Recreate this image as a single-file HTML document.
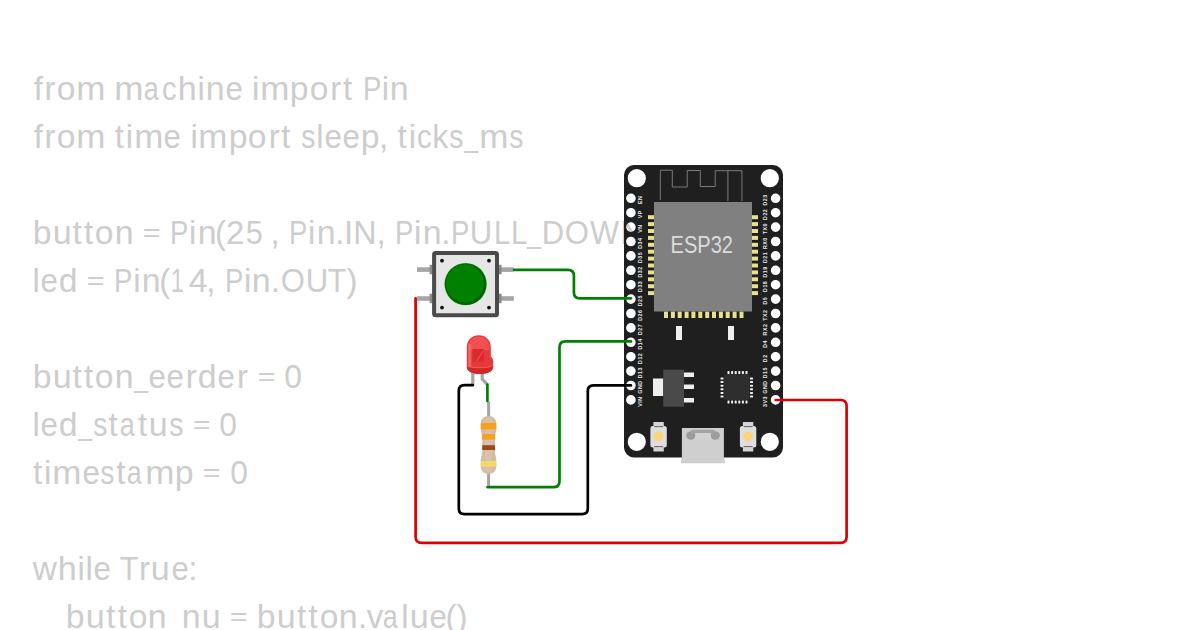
<!DOCTYPE html>
<html><head><meta charset="utf-8"><style>
html,body{margin:0;padding:0;background:#fff;width:1200px;height:630px;overflow:hidden;position:relative}
#code span{position:absolute;font-family:"Liberation Sans",sans-serif;font-size:33px;line-height:0;color:#cdcdcd;white-space:pre}
svg{position:absolute;left:0;top:0}
</style></head><body>
<div id="code"><span style="left:33.66px;top:88.6px">f</span><span style="left:44.39px;top:88.6px">r</span><span style="left:56.72px;top:88.6px;transform-origin:9.18px 11.4px;transform:translateY(0.00px) scale(1.018,1.000)">o</span><span style="left:76.87px;top:88.6px;transform-origin:13.75px 11.4px;transform:translateY(0.00px) scale(1.061,1.000)">m</span><span style="left:115.16px;top:88.6px;transform-origin:13.75px 11.4px;transform:translateY(0.00px) scale(1.061,1.000)">m</span><span style="left:142.31px;top:88.6px;transform-origin:9.88px 11.4px;transform:translateY(0.00px) scale(0.816,1.000)">a</span><span style="left:161.33px;top:88.6px;transform-origin:8.52px 11.4px;transform:translateY(0.00px) scale(0.887,1.000)">c</span><span style="left:177.93px;top:88.6px;transform-origin:9.25px 11.4px;transform:translateY(0.00px) scale(1.035,1.000)">h</span><span style="left:197.47px;top:88.6px">i</span><span style="left:205.94px;top:88.6px;transform-origin:9.20px 11.4px;transform:translateY(0.00px) scale(1.028,1.000)">n</span><span style="left:224.96px;top:88.6px;transform-origin:9.14px 11.4px;transform:translateY(0.00px) scale(0.946,1.000)">e</span><span style="left:251.96px;top:88.6px">i</span><span style="left:260.94px;top:88.6px;transform-origin:13.75px 11.4px;transform:translateY(0.00px) scale(1.061,1.000)">m</span><span style="left:290.38px;top:88.6px;transform-origin:9.55px 11.4px;transform:translateY(0.00px) scale(1.024,1.000)">p</span><span style="left:309.89px;top:88.6px;transform-origin:9.18px 11.4px;transform:translateY(0.00px) scale(1.018,1.000)">o</span><span style="left:330.18px;top:88.6px">r</span><span style="left:342.89px;top:88.6px">t</span><span style="left:360.83px;top:88.6px;transform-origin:11.49px 11.4px;transform:translateY(0.00px) scale(0.832,1.000)">P</span><span style="left:381.74px;top:88.6px">i</span><span style="left:390.22px;top:88.6px;transform-origin:9.20px 11.4px;transform:translateY(0.00px) scale(1.028,1.000)">n</span><span style="left:33.66px;top:136.6px">f</span><span style="left:44.39px;top:136.6px">r</span><span style="left:56.72px;top:136.6px;transform-origin:9.18px 11.4px;transform:translateY(0.00px) scale(1.018,1.000)">o</span><span style="left:76.87px;top:136.6px;transform-origin:13.75px 11.4px;transform:translateY(0.00px) scale(1.061,1.000)">m</span><span style="left:114.82px;top:136.6px">t</span><span style="left:125.85px;top:136.6px">i</span><span style="left:134.83px;top:136.6px;transform-origin:13.75px 11.4px;transform:translateY(0.00px) scale(1.061,1.000)">m</span><span style="left:163.44px;top:136.6px;transform-origin:9.14px 11.4px;transform:translateY(0.00px) scale(0.946,1.000)">e</span><span style="left:190.43px;top:136.6px">i</span><span style="left:199.41px;top:136.6px;transform-origin:13.75px 11.4px;transform:translateY(0.00px) scale(1.061,1.000)">m</span><span style="left:228.86px;top:136.6px;transform-origin:9.55px 11.4px;transform:translateY(0.00px) scale(1.024,1.000)">p</span><span style="left:248.36px;top:136.6px;transform-origin:9.18px 11.4px;transform:translateY(0.00px) scale(1.018,1.000)">o</span><span style="left:268.66px;top:136.6px">r</span><span style="left:281.36px;top:136.6px">t</span><span style="left:300.01px;top:136.6px;transform-origin:8.11px 11.4px;transform:translateY(0.00px) scale(0.856,1.000)">s</span><span style="left:316.14px;top:136.6px">l</span><span style="left:323.87px;top:136.6px;transform-origin:9.14px 11.4px;transform:translateY(0.00px) scale(0.946,1.000)">e</span><span style="left:342.00px;top:136.6px;transform-origin:9.14px 11.4px;transform:translateY(0.00px) scale(0.946,1.000)">e</span><span style="left:360.98px;top:136.6px;transform-origin:9.55px 11.4px;transform:translateY(0.00px) scale(1.024,1.000)">p</span><span style="left:378.98px;top:136.6px">,</span><span style="left:397.60px;top:136.6px">t</span><span style="left:408.63px;top:136.6px">i</span><span style="left:415.93px;top:136.6px;transform-origin:8.52px 11.4px;transform:translateY(0.00px) scale(0.887,1.000)">c</span><span style="left:432.17px;top:136.6px;transform-origin:9.39px 11.4px;transform:translateY(0.00px) scale(0.974,1.000)">k</span><span style="left:448.45px;top:136.6px;transform-origin:8.11px 11.4px;transform:translateY(0.00px) scale(0.856,1.000)">s</span><span style="left:462.14px;top:136.6px;transform-origin:9.11px 11.4px;transform:translateY(-1.23px) scale(0.743,0.926)">_</span><span style="left:479.59px;top:136.6px;transform-origin:13.75px 11.4px;transform:translateY(0.00px) scale(1.061,1.000)">m</span><span style="left:507.90px;top:136.6px;transform-origin:8.11px 11.4px;transform:translateY(0.00px) scale(0.856,1.000)">s</span><span style="left:32.91px;top:232.6px;transform-origin:9.55px 11.4px;transform:translateY(0.00px) scale(1.024,1.000)">b</span><span style="left:52.51px;top:232.6px;transform-origin:9.15px 11.4px;transform:translateY(0.00px) scale(1.032,1.000)">u</span><span style="left:72.60px;top:232.6px">t</span><span style="left:84.11px;top:232.6px">t</span><span style="left:95.25px;top:232.6px;transform-origin:9.18px 11.4px;transform:translateY(0.00px) scale(1.018,1.000)">o</span><span style="left:114.89px;top:232.6px;transform-origin:9.20px 11.4px;transform:translateY(0.00px) scale(1.028,1.000)">n</span><span style="left:141.91px;top:232.6px;transform-origin:9.63px 11.4px;transform:translateY(-2.61px) scale(0.923,0.807)">=</span><span style="left:168.15px;top:232.6px;transform-origin:11.49px 11.4px;transform:translateY(0.00px) scale(0.832,1.000)">P</span><span style="left:189.06px;top:232.6px">i</span><span style="left:197.54px;top:232.6px;transform-origin:9.20px 11.4px;transform:translateY(0.00px) scale(1.028,1.000)">n</span><span style="left:215.08px;top:232.6px">(</span><span style="left:226.08px;top:232.6px">2</span><span style="left:244.77px;top:232.6px;transform-origin:9.14px 11.4px;transform:translateY(0.00px) scale(0.928,1.000)">5</span><span style="left:270.48px;top:232.6px">,</span><span style="left:287.15px;top:232.6px;transform-origin:11.49px 11.4px;transform:translateY(0.00px) scale(0.832,1.000)">P</span><span style="left:308.05px;top:232.6px">i</span><span style="left:316.53px;top:232.6px;transform-origin:9.20px 11.4px;transform:translateY(0.00px) scale(1.028,1.000)">n</span><span style="left:335.23px;top:232.6px">.</span><span style="left:343.97px;top:232.6px">I</span><span style="left:353.33px;top:232.6px;transform-origin:11.92px 11.4px;transform:translateY(0.00px) scale(0.978,1.000)">N</span><span style="left:376.45px;top:232.6px">,</span><span style="left:393.12px;top:232.6px;transform-origin:11.49px 11.4px;transform:translateY(0.00px) scale(0.832,1.000)">P</span><span style="left:414.02px;top:232.6px">i</span><span style="left:422.50px;top:232.6px;transform-origin:9.20px 11.4px;transform:translateY(0.00px) scale(1.028,1.000)">n</span><span style="left:441.20px;top:232.6px">.</span><span style="left:449.00px;top:232.6px;transform-origin:11.49px 11.4px;transform:translateY(0.00px) scale(0.832,1.000)">P</span><span style="left:469.30px;top:232.6px;transform-origin:11.92px 11.4px;transform:translateY(0.00px) scale(0.943,1.000)">U</span><span style="left:492.64px;top:232.6px;transform-origin:9.98px 11.4px;transform:translateY(0.00px) scale(0.888,1.000)">L</span><span style="left:509.50px;top:232.6px;transform-origin:9.98px 11.4px;transform:translateY(0.00px) scale(0.888,1.000)">L</span><span style="left:524.69px;top:232.6px;transform-origin:9.11px 11.4px;transform:translateY(-1.23px) scale(0.743,0.926)">_</span><span style="left:540.70px;top:232.6px;transform-origin:12.48px 11.4px;transform:translateY(0.00px) scale(0.937,1.000)">D</span><span style="left:564.04px;top:232.6px;transform-origin:12.83px 11.4px;transform:translateY(0.00px) scale(0.940,1.000)">O</span><span style="left:588.76px;top:232.6px;transform-origin:15.59px 11.4px;transform:translateY(0.00px) scale(0.935,1.000)">W</span><span style="left:619.50px;top:232.6px;transform-origin:11.92px 11.4px;transform:translateY(0.00px) scale(0.978,1.000)">N</span><span style="left:643.61px;top:232.6px">)</span><span style="left:32.50px;top:280.6px">l</span><span style="left:40.23px;top:280.6px;transform-origin:9.14px 11.4px;transform:translateY(0.00px) scale(0.946,1.000)">e</span><span style="left:58.98px;top:280.6px;transform-origin:8.81px 11.4px;transform:translateY(0.00px) scale(1.023,1.000)">d</span><span style="left:86.13px;top:280.6px;transform-origin:9.63px 11.4px;transform:translateY(-2.61px) scale(0.923,0.807)">=</span><span style="left:112.37px;top:280.6px;transform-origin:11.49px 11.4px;transform:translateY(0.00px) scale(0.832,1.000)">P</span><span style="left:133.28px;top:280.6px">i</span><span style="left:141.75px;top:280.6px;transform-origin:9.20px 11.4px;transform:translateY(0.00px) scale(1.028,1.000)">n</span><span style="left:159.29px;top:280.6px">(</span><span style="left:167.82px;top:280.6px;transform-origin:9.63px 11.4px;transform:translateY(0.00px) scale(0.720,1.000)">1</span><span style="left:188.99px;top:280.6px;transform-origin:9.07px 11.4px;transform:translateY(0.00px) scale(1.032,1.000)">4</span><span style="left:206.31px;top:280.6px">,</span><span style="left:222.98px;top:280.6px;transform-origin:11.49px 11.4px;transform:translateY(0.00px) scale(0.832,1.000)">P</span><span style="left:243.88px;top:280.6px">i</span><span style="left:252.36px;top:280.6px;transform-origin:9.20px 11.4px;transform:translateY(0.00px) scale(1.028,1.000)">n</span><span style="left:271.06px;top:280.6px">.</span><span style="left:279.62px;top:280.6px;transform-origin:12.83px 11.4px;transform:translateY(0.00px) scale(0.940,1.000)">O</span><span style="left:304.85px;top:280.6px;transform-origin:11.92px 11.4px;transform:translateY(0.00px) scale(0.943,1.000)">U</span><span style="left:327.36px;top:280.6px;transform-origin:10.07px 11.4px;transform:translateY(0.00px) scale(0.920,1.000)">T</span><span style="left:346.38px;top:280.6px">)</span><span style="left:32.91px;top:376.6px;transform-origin:9.55px 11.4px;transform:translateY(0.00px) scale(1.024,1.000)">b</span><span style="left:52.51px;top:376.6px;transform-origin:9.15px 11.4px;transform:translateY(0.00px) scale(1.032,1.000)">u</span><span style="left:72.60px;top:376.6px">t</span><span style="left:84.11px;top:376.6px">t</span><span style="left:95.25px;top:376.6px;transform-origin:9.18px 11.4px;transform:translateY(0.00px) scale(1.018,1.000)">o</span><span style="left:114.89px;top:376.6px;transform-origin:9.20px 11.4px;transform:translateY(0.00px) scale(1.028,1.000)">n</span><span style="left:131.90px;top:376.6px;transform-origin:9.11px 11.4px;transform:translateY(-1.23px) scale(0.743,0.926)">_</span><span style="left:148.06px;top:376.6px;transform-origin:9.14px 11.4px;transform:translateY(0.00px) scale(0.946,1.000)">e</span><span style="left:166.20px;top:376.6px;transform-origin:9.14px 11.4px;transform:translateY(0.00px) scale(0.946,1.000)">e</span><span style="left:185.78px;top:376.6px">r</span><span style="left:198.14px;top:376.6px;transform-origin:8.81px 11.4px;transform:translateY(0.00px) scale(1.023,1.000)">d</span><span style="left:217.30px;top:376.6px;transform-origin:9.14px 11.4px;transform:translateY(0.00px) scale(0.946,1.000)">e</span><span style="left:236.88px;top:376.6px">r</span><span style="left:256.63px;top:376.6px;transform-origin:9.63px 11.4px;transform:translateY(-2.61px) scale(0.923,0.807)">=</span><span style="left:283.96px;top:376.6px;transform-origin:9.18px 11.4px;transform:translateY(0.00px) scale(0.964,1.000)">0</span><span style="left:32.50px;top:424.6px">l</span><span style="left:40.23px;top:424.6px;transform-origin:9.14px 11.4px;transform:translateY(0.00px) scale(0.946,1.000)">e</span><span style="left:58.98px;top:424.6px;transform-origin:8.81px 11.4px;transform:translateY(0.00px) scale(1.023,1.000)">d</span><span style="left:76.11px;top:424.6px;transform-origin:9.11px 11.4px;transform:translateY(-1.23px) scale(0.743,0.926)">_</span><span style="left:91.97px;top:424.6px;transform-origin:8.11px 11.4px;transform:translateY(0.00px) scale(0.856,1.000)">s</span><span style="left:108.62px;top:424.6px">t</span><span style="left:117.73px;top:424.6px;transform-origin:9.88px 11.4px;transform:translateY(0.00px) scale(0.816,1.000)">a</span><span style="left:138.08px;top:424.6px">t</span><span style="left:149.32px;top:424.6px;transform-origin:9.15px 11.4px;transform:translateY(0.00px) scale(1.032,1.000)">u</span><span style="left:168.15px;top:424.6px;transform-origin:8.11px 11.4px;transform:translateY(0.00px) scale(0.856,1.000)">s</span><span style="left:191.84px;top:424.6px;transform-origin:9.63px 11.4px;transform:translateY(-2.61px) scale(0.923,0.807)">=</span><span style="left:219.17px;top:424.6px;transform-origin:9.18px 11.4px;transform:translateY(0.00px) scale(0.964,1.000)">0</span><span style="left:33.03px;top:472.6px">t</span><span style="left:44.06px;top:472.6px">i</span><span style="left:53.04px;top:472.6px;transform-origin:13.75px 11.4px;transform:translateY(0.00px) scale(1.061,1.000)">m</span><span style="left:81.65px;top:472.6px;transform-origin:9.14px 11.4px;transform:translateY(0.00px) scale(0.946,1.000)">e</span><span style="left:99.48px;top:472.6px;transform-origin:8.11px 11.4px;transform:translateY(0.00px) scale(0.856,1.000)">s</span><span style="left:116.13px;top:472.6px">t</span><span style="left:125.23px;top:472.6px;transform-origin:9.88px 11.4px;transform:translateY(0.00px) scale(0.816,1.000)">a</span><span style="left:145.93px;top:472.6px;transform-origin:13.75px 11.4px;transform:translateY(0.00px) scale(1.061,1.000)">m</span><span style="left:175.38px;top:472.6px;transform-origin:9.55px 11.4px;transform:translateY(0.00px) scale(1.024,1.000)">p</span><span style="left:202.30px;top:472.6px;transform-origin:9.63px 11.4px;transform:translateY(-2.61px) scale(0.923,0.807)">=</span><span style="left:229.62px;top:472.6px;transform-origin:9.18px 11.4px;transform:translateY(0.00px) scale(0.964,1.000)">0</span><span style="left:32.68px;top:568.6px;transform-origin:11.93px 11.4px;transform:translateY(0.00px) scale(1.013,1.000)">w</span><span style="left:57.85px;top:568.6px;transform-origin:9.25px 11.4px;transform:translateY(0.00px) scale(1.035,1.000)">h</span><span style="left:77.38px;top:568.6px">i</span><span style="left:85.50px;top:568.6px">l</span><span style="left:93.23px;top:568.6px;transform-origin:9.14px 11.4px;transform:translateY(0.00px) scale(0.946,1.000)">e</span><span style="left:118.57px;top:568.6px;transform-origin:10.07px 11.4px;transform:translateY(0.00px) scale(0.920,1.000)">T</span><span style="left:138.98px;top:568.6px">r</span><span style="left:151.41px;top:568.6px;transform-origin:9.15px 11.4px;transform:translateY(0.00px) scale(1.032,1.000)">u</span><span style="left:170.55px;top:568.6px;transform-origin:9.14px 11.4px;transform:translateY(0.00px) scale(0.946,1.000)">e</span><span style="left:188.37px;top:568.6px">:</span><span style="left:66.48px;top:616.6px;transform-origin:9.55px 11.4px;transform:translateY(0.00px) scale(1.024,1.000)">b</span><span style="left:86.07px;top:616.6px;transform-origin:9.15px 11.4px;transform:translateY(0.00px) scale(1.032,1.000)">u</span><span style="left:106.16px;top:616.6px">t</span><span style="left:117.67px;top:616.6px">t</span><span style="left:128.81px;top:616.6px;transform-origin:9.18px 11.4px;transform:translateY(0.00px) scale(1.018,1.000)">o</span><span style="left:148.46px;top:616.6px;transform-origin:9.20px 11.4px;transform:translateY(0.00px) scale(1.028,1.000)">n</span><span style="left:165.46px;top:616.6px;transform-origin:9.11px 11.4px;transform:translateY(-1.23px) scale(0.743,0.926)">_</span><span style="left:182.41px;top:616.6px;transform-origin:9.20px 11.4px;transform:translateY(0.00px) scale(1.028,1.000)">n</span><span style="left:202.10px;top:616.6px;transform-origin:9.15px 11.4px;transform:translateY(0.00px) scale(1.032,1.000)">u</span><span style="left:229.24px;top:616.6px;transform-origin:9.63px 11.4px;transform:translateY(-2.61px) scale(0.923,0.807)">=</span><span style="left:257.33px;top:616.6px;transform-origin:9.55px 11.4px;transform:translateY(0.00px) scale(1.024,1.000)">b</span><span style="left:276.92px;top:616.6px;transform-origin:9.15px 11.4px;transform:translateY(0.00px) scale(1.032,1.000)">u</span><span style="left:297.01px;top:616.6px">t</span><span style="left:308.52px;top:616.6px">t</span><span style="left:319.66px;top:616.6px;transform-origin:9.18px 11.4px;transform:translateY(0.00px) scale(1.018,1.000)">o</span><span style="left:339.31px;top:616.6px;transform-origin:9.20px 11.4px;transform:translateY(0.00px) scale(1.028,1.000)">n</span><span style="left:358.01px;top:616.6px">.</span><span style="left:366.65px;top:616.6px">v</span><span style="left:381.49px;top:616.6px;transform-origin:9.88px 11.4px;transform:translateY(0.00px) scale(0.816,1.000)">a</span><span style="left:401.32px;top:616.6px">l</span><span style="left:409.72px;top:616.6px;transform-origin:9.15px 11.4px;transform:translateY(0.00px) scale(1.032,1.000)">u</span><span style="left:428.86px;top:616.6px;transform-origin:9.14px 11.4px;transform:translateY(0.00px) scale(0.946,1.000)">e</span><span style="left:445.52px;top:616.6px">(</span><span style="left:456.58px;top:616.6px">)</span></div>
<svg width="1200" height="630" viewBox="0 0 1200 630">
<path fill="#1f1f1f" fill-rule="evenodd" d="M634,165 H773 A10,10 0 0 1 783,175 V447.5 A10,10 0 0 1 773,457.5 H634 A10,10 0 0 1 624,447.5 V175 A10,10 0 0 1 634,165 Z M627.6999999999999,178.2 a9.1,9.1 0 1 0 18.2,0 a9.1,9.1 0 1 0 -18.2,0 Z M760.6999999999999,178.2 a9.1,9.1 0 1 0 18.2,0 a9.1,9.1 0 1 0 -18.2,0 Z M627.6999999999999,441.8 a9.1,9.1 0 1 0 18.2,0 a9.1,9.1 0 1 0 -18.2,0 Z M760.6999999999999,441.8 a9.1,9.1 0 1 0 18.2,0 a9.1,9.1 0 1 0 -18.2,0 Z M626.1,198.3 a4.8,4.8 0 1 0 9.6,0 a4.8,4.8 0 1 0 -9.6,0 Z M770.8000000000001,198.3 a4.8,4.8 0 1 0 9.6,0 a4.8,4.8 0 1 0 -9.6,0 Z M626.1,212.70000000000002 a4.8,4.8 0 1 0 9.6,0 a4.8,4.8 0 1 0 -9.6,0 Z M770.8000000000001,212.70000000000002 a4.8,4.8 0 1 0 9.6,0 a4.8,4.8 0 1 0 -9.6,0 Z M626.1,227.10000000000002 a4.8,4.8 0 1 0 9.6,0 a4.8,4.8 0 1 0 -9.6,0 Z M770.8000000000001,227.10000000000002 a4.8,4.8 0 1 0 9.6,0 a4.8,4.8 0 1 0 -9.6,0 Z M626.1,241.5 a4.8,4.8 0 1 0 9.6,0 a4.8,4.8 0 1 0 -9.6,0 Z M770.8000000000001,241.5 a4.8,4.8 0 1 0 9.6,0 a4.8,4.8 0 1 0 -9.6,0 Z M626.1,255.9 a4.8,4.8 0 1 0 9.6,0 a4.8,4.8 0 1 0 -9.6,0 Z M770.8000000000001,255.9 a4.8,4.8 0 1 0 9.6,0 a4.8,4.8 0 1 0 -9.6,0 Z M626.1,270.3 a4.8,4.8 0 1 0 9.6,0 a4.8,4.8 0 1 0 -9.6,0 Z M770.8000000000001,270.3 a4.8,4.8 0 1 0 9.6,0 a4.8,4.8 0 1 0 -9.6,0 Z M626.1,284.70000000000005 a4.8,4.8 0 1 0 9.6,0 a4.8,4.8 0 1 0 -9.6,0 Z M770.8000000000001,284.70000000000005 a4.8,4.8 0 1 0 9.6,0 a4.8,4.8 0 1 0 -9.6,0 Z M626.1,299.1 a4.8,4.8 0 1 0 9.6,0 a4.8,4.8 0 1 0 -9.6,0 Z M770.8000000000001,299.1 a4.8,4.8 0 1 0 9.6,0 a4.8,4.8 0 1 0 -9.6,0 Z M626.1,313.5 a4.8,4.8 0 1 0 9.6,0 a4.8,4.8 0 1 0 -9.6,0 Z M770.8000000000001,313.5 a4.8,4.8 0 1 0 9.6,0 a4.8,4.8 0 1 0 -9.6,0 Z M626.1,327.9 a4.8,4.8 0 1 0 9.6,0 a4.8,4.8 0 1 0 -9.6,0 Z M770.8000000000001,327.9 a4.8,4.8 0 1 0 9.6,0 a4.8,4.8 0 1 0 -9.6,0 Z M626.1,342.3 a4.8,4.8 0 1 0 9.6,0 a4.8,4.8 0 1 0 -9.6,0 Z M770.8000000000001,342.3 a4.8,4.8 0 1 0 9.6,0 a4.8,4.8 0 1 0 -9.6,0 Z M626.1,356.70000000000005 a4.8,4.8 0 1 0 9.6,0 a4.8,4.8 0 1 0 -9.6,0 Z M770.8000000000001,356.70000000000005 a4.8,4.8 0 1 0 9.6,0 a4.8,4.8 0 1 0 -9.6,0 Z M626.1,371.1 a4.8,4.8 0 1 0 9.6,0 a4.8,4.8 0 1 0 -9.6,0 Z M770.8000000000001,371.1 a4.8,4.8 0 1 0 9.6,0 a4.8,4.8 0 1 0 -9.6,0 Z M626.1,385.5 a4.8,4.8 0 1 0 9.6,0 a4.8,4.8 0 1 0 -9.6,0 Z M770.8000000000001,385.5 a4.8,4.8 0 1 0 9.6,0 a4.8,4.8 0 1 0 -9.6,0 Z M626.1,399.9 a4.8,4.8 0 1 0 9.6,0 a4.8,4.8 0 1 0 -9.6,0 Z M770.8000000000001,399.9 a4.8,4.8 0 1 0 9.6,0 a4.8,4.8 0 1 0 -9.6,0 Z"/>
<path fill="none" stroke="#7a7a7a" stroke-width="1" d="M660.3,200 V170.2 H672.3 V187 H687.2 V170.5 H700.3 V186.5 H715.2 V170.7 H741.9 V201 M727.9,170.7 V201"/>
<rect x="648" y="215.2" width="6" height="4" fill="#e8e08a"/>
<rect x="752" y="215.2" width="6" height="4" fill="#e8e08a"/>
<rect x="648" y="222.1" width="6" height="4" fill="#e8e08a"/>
<rect x="752" y="222.1" width="6" height="4" fill="#e8e08a"/>
<rect x="648" y="229.0" width="6" height="4" fill="#e8e08a"/>
<rect x="752" y="229.0" width="6" height="4" fill="#e8e08a"/>
<rect x="648" y="235.9" width="6" height="4" fill="#e8e08a"/>
<rect x="752" y="235.9" width="6" height="4" fill="#e8e08a"/>
<rect x="648" y="242.8" width="6" height="4" fill="#e8e08a"/>
<rect x="752" y="242.8" width="6" height="4" fill="#e8e08a"/>
<rect x="648" y="249.7" width="6" height="4" fill="#e8e08a"/>
<rect x="752" y="249.7" width="6" height="4" fill="#e8e08a"/>
<rect x="648" y="256.6" width="6" height="4" fill="#e8e08a"/>
<rect x="752" y="256.6" width="6" height="4" fill="#e8e08a"/>
<rect x="648" y="263.5" width="6" height="4" fill="#e8e08a"/>
<rect x="752" y="263.5" width="6" height="4" fill="#e8e08a"/>
<rect x="648" y="270.4" width="6" height="4" fill="#e8e08a"/>
<rect x="752" y="270.4" width="6" height="4" fill="#e8e08a"/>
<rect x="648" y="277.3" width="6" height="4" fill="#e8e08a"/>
<rect x="752" y="277.3" width="6" height="4" fill="#e8e08a"/>
<rect x="648" y="284.2" width="6" height="4" fill="#e8e08a"/>
<rect x="752" y="284.2" width="6" height="4" fill="#e8e08a"/>
<rect x="648" y="291.1" width="6" height="4" fill="#e8e08a"/>
<rect x="752" y="291.1" width="6" height="4" fill="#e8e08a"/>
<rect x="664.0" y="311.5" width="4" height="6.5" fill="#e8e08a"/>
<rect x="670.9" y="311.5" width="4" height="6.5" fill="#e8e08a"/>
<rect x="677.7" y="311.5" width="4" height="6.5" fill="#e8e08a"/>
<rect x="684.6" y="311.5" width="4" height="6.5" fill="#e8e08a"/>
<rect x="691.4" y="311.5" width="4" height="6.5" fill="#e8e08a"/>
<rect x="698.3" y="311.5" width="4" height="6.5" fill="#e8e08a"/>
<rect x="705.2" y="311.5" width="4" height="6.5" fill="#e8e08a"/>
<rect x="712.0" y="311.5" width="4" height="6.5" fill="#e8e08a"/>
<rect x="718.9" y="311.5" width="4" height="6.5" fill="#e8e08a"/>
<rect x="725.7" y="311.5" width="4" height="6.5" fill="#e8e08a"/>
<rect x="732.6" y="311.5" width="4" height="6.5" fill="#e8e08a"/>
<rect x="739.5" y="311.5" width="4" height="6.5" fill="#e8e08a"/>
<rect x="654" y="202" width="98" height="109.5" fill="#808080"/>
<text x="670.6" y="253" font-size="23.6" fill="#dcdcdc" textLength="62.4" lengthAdjust="spacingAndGlyphs" font-family="Liberation Sans">ESP32</text>
<rect x="676" y="326" width="6" height="14" fill="#eeeeee"/>
<rect x="728" y="326" width="6" height="14" fill="#eeeeee"/>
<rect x="653" y="378.5" width="10.3" height="17.5" fill="#eeeeee"/>
<rect x="663.3" y="369.7" width="20.7" height="37" fill="#4a4a4a"/>
<rect x="684" y="372.5" width="10" height="4.5" fill="#eeeeee"/>
<rect x="684" y="384.5" width="10" height="4.5" fill="#eeeeee"/>
<rect x="684" y="398" width="10" height="4.5" fill="#eeeeee"/>
<rect x="724" y="374" width="25.5" height="26" rx="1.5" fill="#2e2e2e"/>
<rect x="727.5" y="371" width="2" height="3" rx="0.6" fill="#f0f0f0"/>
<rect x="727.5" y="400.5" width="2" height="3" rx="0.6" fill="#f0f0f0"/>
<rect x="720.5" y="377.5" width="3" height="2" rx="0.6" fill="#f0f0f0"/>
<rect x="750" y="377.5" width="3" height="2" rx="0.6" fill="#f0f0f0"/>
<rect x="731.1" y="371" width="2" height="3" rx="0.6" fill="#f0f0f0"/>
<rect x="731.1" y="400.5" width="2" height="3" rx="0.6" fill="#f0f0f0"/>
<rect x="720.5" y="381.1" width="3" height="2" rx="0.6" fill="#f0f0f0"/>
<rect x="750" y="381.1" width="3" height="2" rx="0.6" fill="#f0f0f0"/>
<rect x="734.7" y="371" width="2" height="3" rx="0.6" fill="#f0f0f0"/>
<rect x="734.7" y="400.5" width="2" height="3" rx="0.6" fill="#f0f0f0"/>
<rect x="720.5" y="384.7" width="3" height="2" rx="0.6" fill="#f0f0f0"/>
<rect x="750" y="384.7" width="3" height="2" rx="0.6" fill="#f0f0f0"/>
<rect x="738.3" y="371" width="2" height="3" rx="0.6" fill="#f0f0f0"/>
<rect x="738.3" y="400.5" width="2" height="3" rx="0.6" fill="#f0f0f0"/>
<rect x="720.5" y="388.3" width="3" height="2" rx="0.6" fill="#f0f0f0"/>
<rect x="750" y="388.3" width="3" height="2" rx="0.6" fill="#f0f0f0"/>
<rect x="741.9" y="371" width="2" height="3" rx="0.6" fill="#f0f0f0"/>
<rect x="741.9" y="400.5" width="2" height="3" rx="0.6" fill="#f0f0f0"/>
<rect x="720.5" y="391.9" width="3" height="2" rx="0.6" fill="#f0f0f0"/>
<rect x="750" y="391.9" width="3" height="2" rx="0.6" fill="#f0f0f0"/>
<rect x="745.5" y="371" width="2" height="3" rx="0.6" fill="#f0f0f0"/>
<rect x="745.5" y="400.5" width="2" height="3" rx="0.6" fill="#f0f0f0"/>
<rect x="720.5" y="395.5" width="3" height="2" rx="0.6" fill="#f0f0f0"/>
<rect x="750" y="395.5" width="3" height="2" rx="0.6" fill="#f0f0f0"/>
<rect x="653.4" y="422" width="10.4" height="5.5" fill="#d4d4d4"/>
<rect x="653.4" y="446" width="10.4" height="5.5" fill="#d4d4d4"/>
<rect x="650.4" y="426" width="16.4" height="21.5" rx="2.5" fill="#dedede"/>
<rect x="654.1" y="426.2" width="9" height="0.9" fill="#555"/>
<rect x="654.1" y="446.2" width="9" height="0.9" fill="#555"/>
<circle cx="658.6" cy="436.3" r="5.4" fill="#fcd67a" opacity="0.5"/>
<circle cx="658.6" cy="436.3" r="4.6" fill="#fdd47a"/>
<rect x="742.9" y="422" width="10.4" height="5.5" fill="#d4d4d4"/>
<rect x="742.9" y="446" width="10.4" height="5.5" fill="#d4d4d4"/>
<rect x="739.9" y="426" width="16.4" height="21.5" rx="2.5" fill="#dedede"/>
<rect x="743.6" y="426.2" width="9" height="0.9" fill="#555"/>
<rect x="743.6" y="446.2" width="9" height="0.9" fill="#555"/>
<circle cx="748.1" cy="436.3" r="5.4" fill="#fcd67a" opacity="0.5"/>
<circle cx="748.1" cy="436.3" r="4.6" fill="#fdd47a"/>
<path fill="#cfcfcf" d="M681.9,428.1 H723.9 V457 L725.2,463.3 H680.6 L681.9,457 Z"/>
<ellipse cx="690.8" cy="435.5" rx="4.6" ry="4.2" fill="#9c9c9c"/>
<ellipse cx="715.3" cy="435.5" rx="4.6" ry="4.2" fill="#9c9c9c"/>
<rect x="691" y="429.8" width="24" height="4" rx="1.5" fill="#a4a4a4"/>
<rect x="695.3" y="433" width="15.4" height="7" fill="#d2d2d2"/>
<text transform="translate(642.4,199.9) rotate(-90)" text-anchor="middle" font-size="5.3" letter-spacing="0.5" font-weight="bold" fill="#eeeeee" font-family="Liberation Sans">EN</text>
<text transform="translate(642.4,214.3) rotate(-90)" text-anchor="middle" font-size="5.3" letter-spacing="0.5" font-weight="bold" fill="#eeeeee" font-family="Liberation Sans">VP</text>
<text transform="translate(642.4,228.7) rotate(-90)" text-anchor="middle" font-size="5.3" letter-spacing="0.5" font-weight="bold" fill="#eeeeee" font-family="Liberation Sans">VN</text>
<text transform="translate(642.4,243.1) rotate(-90)" text-anchor="middle" font-size="5.3" letter-spacing="0.5" font-weight="bold" fill="#eeeeee" font-family="Liberation Sans">D34</text>
<text transform="translate(642.4,257.5) rotate(-90)" text-anchor="middle" font-size="5.3" letter-spacing="0.5" font-weight="bold" fill="#eeeeee" font-family="Liberation Sans">D35</text>
<text transform="translate(642.4,271.9) rotate(-90)" text-anchor="middle" font-size="5.3" letter-spacing="0.5" font-weight="bold" fill="#eeeeee" font-family="Liberation Sans">D32</text>
<text transform="translate(642.4,286.3) rotate(-90)" text-anchor="middle" font-size="5.3" letter-spacing="0.5" font-weight="bold" fill="#eeeeee" font-family="Liberation Sans">D33</text>
<text transform="translate(642.4,300.7) rotate(-90)" text-anchor="middle" font-size="5.3" letter-spacing="0.5" font-weight="bold" fill="#eeeeee" font-family="Liberation Sans">D25</text>
<text transform="translate(642.4,315.1) rotate(-90)" text-anchor="middle" font-size="5.3" letter-spacing="0.5" font-weight="bold" fill="#eeeeee" font-family="Liberation Sans">D26</text>
<text transform="translate(642.4,329.5) rotate(-90)" text-anchor="middle" font-size="5.3" letter-spacing="0.5" font-weight="bold" fill="#eeeeee" font-family="Liberation Sans">D27</text>
<text transform="translate(642.4,343.9) rotate(-90)" text-anchor="middle" font-size="5.3" letter-spacing="0.5" font-weight="bold" fill="#eeeeee" font-family="Liberation Sans">D14</text>
<text transform="translate(642.4,358.3) rotate(-90)" text-anchor="middle" font-size="5.3" letter-spacing="0.5" font-weight="bold" fill="#eeeeee" font-family="Liberation Sans">D12</text>
<text transform="translate(642.4,372.7) rotate(-90)" text-anchor="middle" font-size="5.3" letter-spacing="0.5" font-weight="bold" fill="#eeeeee" font-family="Liberation Sans">D13</text>
<text transform="translate(642.4,387.1) rotate(-90)" text-anchor="middle" font-size="5.3" letter-spacing="0.5" font-weight="bold" fill="#eeeeee" font-family="Liberation Sans">GND</text>
<text transform="translate(642.4,401.5) rotate(-90)" text-anchor="middle" font-size="5.3" letter-spacing="0.5" font-weight="bold" fill="#eeeeee" font-family="Liberation Sans">VIN</text>
<text transform="translate(766.9,199.9) rotate(-90)" text-anchor="middle" font-size="5.3" letter-spacing="0.5" font-weight="bold" fill="#eeeeee" font-family="Liberation Sans">D23</text>
<text transform="translate(766.9,214.3) rotate(-90)" text-anchor="middle" font-size="5.3" letter-spacing="0.5" font-weight="bold" fill="#eeeeee" font-family="Liberation Sans">D22</text>
<text transform="translate(766.9,228.7) rotate(-90)" text-anchor="middle" font-size="5.3" letter-spacing="0.5" font-weight="bold" fill="#eeeeee" font-family="Liberation Sans">TX0</text>
<text transform="translate(766.9,243.1) rotate(-90)" text-anchor="middle" font-size="5.3" letter-spacing="0.5" font-weight="bold" fill="#eeeeee" font-family="Liberation Sans">RX0</text>
<text transform="translate(766.9,257.5) rotate(-90)" text-anchor="middle" font-size="5.3" letter-spacing="0.5" font-weight="bold" fill="#eeeeee" font-family="Liberation Sans">D21</text>
<text transform="translate(766.9,271.9) rotate(-90)" text-anchor="middle" font-size="5.3" letter-spacing="0.5" font-weight="bold" fill="#eeeeee" font-family="Liberation Sans">D19</text>
<text transform="translate(766.9,286.3) rotate(-90)" text-anchor="middle" font-size="5.3" letter-spacing="0.5" font-weight="bold" fill="#eeeeee" font-family="Liberation Sans">D18</text>
<text transform="translate(766.9,300.7) rotate(-90)" text-anchor="middle" font-size="5.3" letter-spacing="0.5" font-weight="bold" fill="#eeeeee" font-family="Liberation Sans">D5</text>
<text transform="translate(766.9,315.1) rotate(-90)" text-anchor="middle" font-size="5.3" letter-spacing="0.5" font-weight="bold" fill="#eeeeee" font-family="Liberation Sans">TX2</text>
<text transform="translate(766.9,329.5) rotate(-90)" text-anchor="middle" font-size="5.3" letter-spacing="0.5" font-weight="bold" fill="#eeeeee" font-family="Liberation Sans">RX2</text>
<text transform="translate(766.9,343.9) rotate(-90)" text-anchor="middle" font-size="5.3" letter-spacing="0.5" font-weight="bold" fill="#eeeeee" font-family="Liberation Sans">D4</text>
<text transform="translate(766.9,358.3) rotate(-90)" text-anchor="middle" font-size="5.3" letter-spacing="0.5" font-weight="bold" fill="#eeeeee" font-family="Liberation Sans">D2</text>
<text transform="translate(766.9,372.7) rotate(-90)" text-anchor="middle" font-size="5.3" letter-spacing="0.5" font-weight="bold" fill="#eeeeee" font-family="Liberation Sans">D15</text>
<text transform="translate(766.9,387.1) rotate(-90)" text-anchor="middle" font-size="5.3" letter-spacing="0.5" font-weight="bold" fill="#eeeeee" font-family="Liberation Sans">GND</text>
<text transform="translate(766.9,401.5) rotate(-90)" text-anchor="middle" font-size="5.3" letter-spacing="0.5" font-weight="bold" fill="#eeeeee" font-family="Liberation Sans">3V3</text>
<rect x="417" y="267.3" width="14.5" height="4.6" fill="#a6a6a6"/>
<rect x="417" y="296.2" width="14.5" height="4.6" fill="#a6a6a6"/>
<rect x="499.3" y="267.3" width="14.5" height="4.6" fill="#a6a6a6"/>
<rect x="499.3" y="296.2" width="14.5" height="4.6" fill="#a6a6a6"/>
<rect x="429.6" y="264.8" width="2.6" height="9.5" fill="#8c8c8c"/>
<rect x="429.6" y="293.7" width="2.6" height="9.5" fill="#8c8c8c"/>
<rect x="499" y="264.8" width="2.6" height="9.5" fill="#8c8c8c"/>
<rect x="499" y="293.7" width="2.6" height="9.5" fill="#8c8c8c"/>
<rect x="434.1" y="252.9" width="62.9" height="62.4" rx="1.5" fill="#e6e6e6" stroke="#4a4a4a" stroke-width="4"/>
<circle cx="442" cy="260.7" r="1.9" fill="#111"/>
<circle cx="442" cy="307.6" r="1.9" fill="#111"/>
<circle cx="489" cy="260.7" r="1.9" fill="#111"/>
<circle cx="489" cy="307.6" r="1.9" fill="#111"/>
<circle cx="465.6" cy="284.1" r="21.3" fill="#7fdc7f"/>
<circle cx="465.6" cy="284.1" r="20.9" fill="#006400"/>
<circle cx="464.9" cy="283.4" r="19" fill="#008000"/>
<path fill="none" stroke="#a6a6a6" stroke-width="3.2" d="M472.8,372 V385.5 M482.2,372 V379 L487.4,384.6"/>
<path fill="#e8393a" d="M466.8,367 V347 C466.8,340 472,335.2 478.8,335.2 C485.6,335.2 490.8,340 490.8,347 V356.8 C492.3,357.5 493.1,358.8 493.1,361 V367 C493.1,371.5 487,374 480,374 C473,374 466.8,371.5 466.8,367 Z"/>
<path fill="#f35a5a" opacity="0.7" d="M468.3,366 V347 C468.3,341 472.5,336.6 478.8,336.6 C485,336.6 489.3,341 489.3,347 V350 L469.5,350 Z"/>
<rect x="472.5" y="349" width="11.5" height="12.5" fill="#d92b2b"/>
<path fill="none" stroke="#ee5555" stroke-width="1" d="M484,349.5 L476.5,361.5"/>
<path fill="#f47272" opacity="0.75" d="M468.2,344 H471.3 V366.5 H468.2 Z"/>
<path fill="#cf2828" d="M466.8,366.5 C472,368.8 488,368.8 493.1,366 V367 C493.1,371.5 487,374 480,374 C473,374 466.8,371.5 466.8,367 Z"/>
<path fill="none" stroke="#f37777" stroke-width="0.7" opacity="0.8" d="M467.5,366.3 C472,368.3 488,368.3 492.5,365.8"/>
<rect x="487.1" y="401.5" width="3" height="86" fill="#a6a6a6"/>
<path fill="#d6bba5" d="M488.6,415.9 C493.5,415.9 496.3,419 496.3,424 V429 C496.3,432 495,434 495,437 V452 C495,455 496.3,457 496.3,460 V466 C496.3,471 493.5,473.8 488.6,473.8 C483.6,473.8 480.8,471 480.8,466 V460 C480.8,457 482.2,455 482.2,452 V437 C482.2,434 480.8,432 480.8,429 V424 C480.8,419 483.6,415.9 488.6,415.9 Z"/>
<rect x="485.5" y="418" width="6" height="54" fill="#e6d2c0" opacity="0.3"/>
<rect x="480.8" y="423" width="15.5" height="6.4" fill="#f7a11a"/>
<rect x="482" y="434" width="13.2" height="5.7" fill="#f7a11a"/>
<rect x="482.2" y="445.2" width="12.8" height="4.8" fill="#9c4a1a"/>
<rect x="480.8" y="461" width="15.5" height="5.7" fill="#f2da64"/>
<path fill="none" stroke-width="2.7" stroke-linecap="round" stroke-linejoin="round" stroke="#008000" d="M514,269.8 H568 Q573.9,269.8 573.9,275.8 V292.5 Q573.9,298.3 579.9,298.3 H631"/>
<path fill="none" stroke-width="2.7" stroke-linecap="round" stroke-linejoin="round" stroke="#008000" d="M487.4,384.6 V401"/>
<path fill="none" stroke-width="2.7" stroke-linecap="round" stroke-linejoin="round" stroke="#008000" d="M487.5,487.2 H553.5 Q559.5,487.2 559.5,481.2 V347.4 Q559.5,341.4 565.5,341.4 H631"/>
<path fill="none" stroke-width="2.7" stroke-linecap="round" stroke-linejoin="round" stroke="#000000" d="M472.8,385.2 H464.5 Q458.8,385.2 458.8,391 V508.5 Q458.8,514.2 464.5,514.2 H582 Q587.8,514.2 587.8,508.5 V391 Q587.8,385.4 593.5,385.4 H631"/>
<path fill="none" stroke-width="2.7" stroke-linecap="round" stroke-linejoin="round" stroke="#dd0000" d="M415.6,298.3 V537 Q415.6,542.9 421.5,542.9 H840.6 Q846.6,542.9 846.6,537 V406 Q846.6,400 840.6,400 H775.7"/>
</svg>
</body></html>
